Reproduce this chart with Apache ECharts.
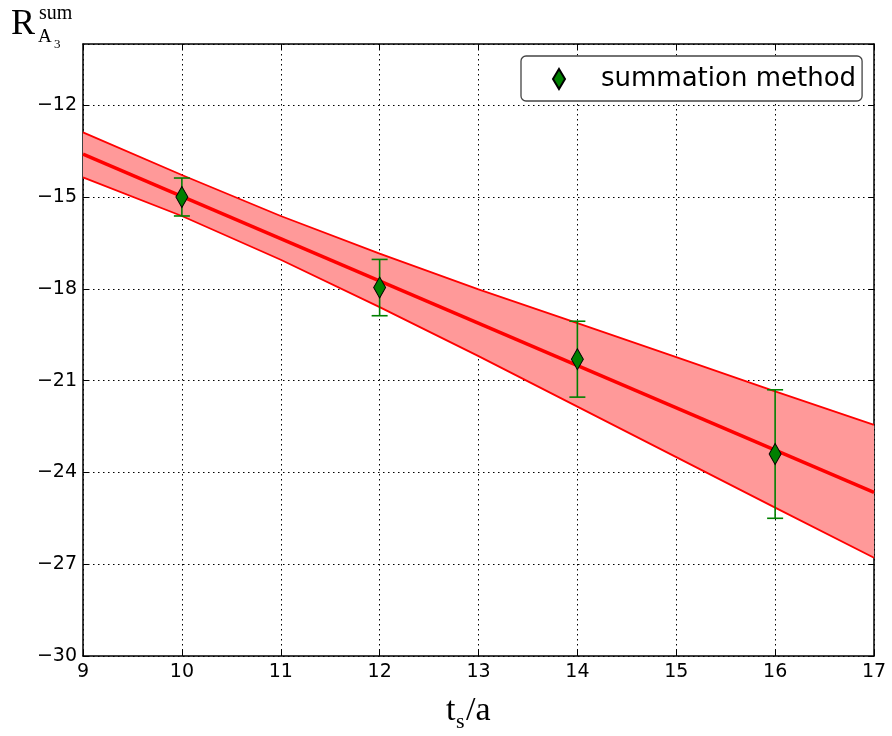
<!DOCTYPE html>
<html>
<head>
<meta charset="utf-8">
<script src="https://cdn.jsdelivr.net/npm/echarts@6/dist/echarts.min.js"></script>
<style>
  html, body { margin: 0; padding: 0; background: #fff; }
  #chart { width: 892px; height: 736px; }
</style>
</head>
<body>
<div id="chart"></div>
<script>
// measured points (summation method)
var ts = [10, 12, 14, 16];
var rSum = [-15.0, -17.96, -20.3, -23.4];
var rErr = [0.62, 0.92, 1.24, 2.1];

// linear fit and its error band
var fitX = [9, 17];
var fitY = [-13.6, -24.65];
var bandX = [9, 10, 11, 12, 13, 14, 15, 16, 17];
var bandHigh = [-12.89, -14.28, -15.62, -16.85, -18.02, -19.12, -20.23, -21.35, -22.45];
var bandLow = [-14.36, -15.62, -17.05, -18.6, -20.2, -21.85, -23.5, -25.15, -26.79];

// axis ticks
var xTicks = { min: 9, max: 17, step: 1 };
var yTicks = { min: -30, max: -10, step: 3 };

var myChart = echarts.init(document.getElementById('chart'));

var tickFont = 'DejaVu Sans';
var mathFont = 'Liberation Serif';
var dotted = { color: '#000', width: 1, type: [1.5, 3.5] };

function minus(v) {
    return String(v).replace('-', '\u2212');
}

function mathText(str, x, y, size) {
    return {
        type: 'text', x: x, y: y,
        style: { text: str, font: size + 'px "' + mathFont + '"', fill: '#000', verticalAlign: 'middle' }
    };
}

myChart.setOption({
    backgroundColor: '#fff',
    animation: false,
    grid: { left: 83, top: 44, width: 791, height: 612 },
    legend: {
        data: ['summation method'],
        left: 521,
        top: 56,
        padding: [10, 6, 9, 31],
        itemWidth: 12,
        itemHeight: 20,
        symbolKeepAspect: false,
        backgroundColor: '#fff',
        borderColor: '#444',
        borderWidth: 1.3,
        borderRadius: 5,
        textStyle: { fontFamily: tickFont, fontSize: 26, color: '#000', padding: [0, 0, 0, 31] }
    },
    xAxis: [{
        type: 'value', min: xTicks.min, max: xTicks.max, interval: xTicks.step,
        axisLine: { show: true, lineStyle: { color: '#000', width: 1.5 } },
        axisTick: { inside: true, length: 6, lineStyle: { color: '#000' } },
        axisLabel: { fontFamily: tickFont, fontSize: 19, color: '#000', margin: 7 },
        splitLine: { show: true, lineStyle: dotted }
    }, {
        type: 'value', position: 'top', min: xTicks.min, max: xTicks.max, interval: xTicks.step,
        axisLine: { show: true, lineStyle: { color: '#000', width: 1.5 } },
        axisTick: { inside: true, length: 6, lineStyle: { color: '#000' } },
        axisLabel: { show: false },
        splitLine: { show: false }
    }],
    yAxis: [{
        type: 'value', min: yTicks.min, max: yTicks.max, interval: yTicks.step,
        axisLine: { show: true, lineStyle: { color: '#000', width: 1.5 } },
        axisTick: { inside: true, length: 6, lineStyle: { color: '#000' } },
        axisLabel: {
            fontFamily: tickFont, fontSize: 19, color: '#000', margin: 6,
            showMaxLabel: false,
            formatter: function (v) { return v === yTicks.max ? '' : minus(v); }
        },
        splitLine: { show: true, lineStyle: dotted }
    }, {
        type: 'value', position: 'right', min: yTicks.min, max: yTicks.max, interval: yTicks.step,
        axisLine: { show: true, lineStyle: { color: '#000', width: 1.5 } },
        axisTick: { inside: true, length: 6, lineStyle: { color: '#000' } },
        axisLabel: { show: false },
        splitLine: { show: false }
    }],
    graphic: [
        mathText('R', 11, 25, 36),
        mathText('sum', 39, 14, 20),
        mathText('A', 38, 37, 19),
        mathText('3', 54, 45, 13),
        mathText('t', 446, 711, 34),
        mathText('s', 456, 722, 22),
        mathText('/a', 466, 711, 34)
    ],
    series: [{
        name: 'band',
        type: 'custom',
        z: 2,
        silent: true,
        encode: { x: 0, y: [1, 2] },
        data: bandX.map(function (x, i) { return [x, bandLow[i], bandHigh[i]]; }),
        renderItem: function (params, api) {
            if (params.dataIndex !== 0) return null;
            var pts = [];
            bandX.forEach(function (x, i) { pts.push(api.coord([x, bandHigh[i]])); });
            for (var i = bandX.length - 1; i >= 0; i--) pts.push(api.coord([bandX[i], bandLow[i]]));
            return {
                type: 'polygon',
                shape: { points: pts },
                style: { fill: '#ff9999' }
            };
        }
    }, {
        name: 'bandHigh',
        type: 'line',
        z: 3,
        symbol: 'none',
        silent: true,
        lineStyle: { color: '#ff0000', width: 1.8 },
        data: bandX.map(function (x, i) { return [x, bandHigh[i]]; })
    }, {
        name: 'bandLow',
        type: 'line',
        z: 3,
        symbol: 'none',
        silent: true,
        lineStyle: { color: '#ff0000', width: 1.8 },
        data: bandX.map(function (x, i) { return [x, bandLow[i]]; })
    }, {
        name: 'fit',
        type: 'line',
        z: 4,
        symbol: 'none',
        silent: true,
        lineStyle: { color: '#ff0000', width: 3.5 },
        data: fitX.map(function (x, i) { return [x, fitY[i]]; })
    }, {
        name: 'errors',
        type: 'custom',
        z: 5,
        silent: true,
        encode: { x: 0, y: [1, 2] },
        data: ts.map(function (x, i) { return [x, rSum[i] - rErr[i], rSum[i] + rErr[i]]; }),
        renderItem: function (params, api) {
            var top = api.coord([api.value(0), api.value(2)]);
            var bot = api.coord([api.value(0), api.value(1)]);
            var cap = 8;
            var st = { stroke: '#008000', lineWidth: 1.6 };
            return {
                type: 'group',
                children: [
                    { type: 'line', shape: { x1: top[0], y1: top[1], x2: bot[0], y2: bot[1] }, style: st },
                    { type: 'line', shape: { x1: top[0] - cap, y1: top[1], x2: top[0] + cap, y2: top[1] }, style: st },
                    { type: 'line', shape: { x1: bot[0] - cap, y1: bot[1], x2: bot[0] + cap, y2: bot[1] }, style: st }
                ]
            };
        }
    }, {
        name: 'summation method',
        type: 'scatter',
        z: 6,
        symbol: 'diamond',
        symbolSize: [12, 21],
        itemStyle: { color: '#008000', opacity: 1, borderColor: '#000', borderWidth: 1 },
        data: ts.map(function (x, i) { return [x, rSum[i]]; })
    }]
});
</script>
</body>
</html>
